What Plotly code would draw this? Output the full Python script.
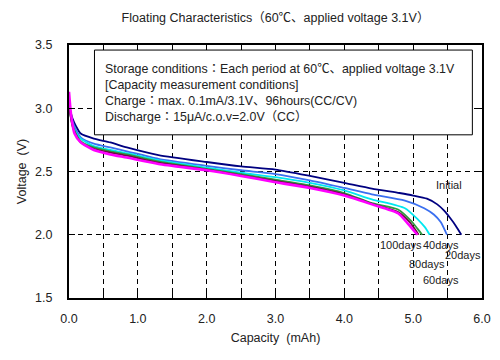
import plotly.graph_objects as go

# ---- data ----
cap_initial = [0, 0.05, 0.10, 0.17, 0.36, 0.60, 0.84, 1.30, 2.00, 2.50, 3.00, 3.50, 4.00, 4.40, 4.80, 5.00, 5.20, 5.35, 5.45, 5.54, 5.62, 5.70]
v_initial   = [3.02, 2.92, 2.86, 2.80, 2.76, 2.73, 2.69, 2.63, 2.575, 2.54, 2.515, 2.465, 2.41, 2.365, 2.33, 2.31, 2.285, 2.24, 2.19, 2.13, 2.07, 2.0]

cap_20 = [0, 0.05, 0.10, 0.17, 0.36, 0.60, 0.84, 1.30, 2.00, 2.50, 3.00, 3.50, 4.00, 4.40, 4.88, 5.16, 5.30, 5.40, 5.49]
v_20   = [3.02, 2.90, 2.83, 2.77, 2.72, 2.69, 2.66, 2.60, 2.545, 2.51, 2.48, 2.43, 2.37, 2.32, 2.27, 2.21, 2.16, 2.10, 2.0]

cap_40 = [0, 0.05, 0.10, 0.17, 0.36, 0.60, 0.84, 1.30, 2.00, 2.50, 3.00, 3.50, 4.00, 4.40, 4.88, 5.07, 5.17, 5.24]
v_40   = [3.01, 2.88, 2.81, 2.76, 2.70, 2.67, 2.645, 2.59, 2.53, 2.49, 2.455, 2.41, 2.35, 2.28, 2.21, 2.12, 2.06, 2.0]

cap_60 = [0, 0.05, 0.10, 0.17, 0.36, 0.60, 0.84, 1.30, 2.00, 2.50, 3.00, 3.50, 4.00, 4.40, 4.78, 4.97, 5.06, 5.13]
v_60   = [3.01, 2.87, 2.80, 2.74, 2.69, 2.66, 2.635, 2.58, 2.52, 2.48, 2.435, 2.39, 2.33, 2.25, 2.20, 2.11, 2.05, 2.0]

cap_80 = [0, 0.05, 0.10, 0.17, 0.36, 0.60, 0.84, 1.30, 2.00, 2.50, 3.00, 3.50, 4.00, 4.40, 4.78, 4.95, 5.08]
v_80   = [3.02, 2.86, 2.79, 2.73, 2.68, 2.65, 2.625, 2.57, 2.515, 2.47, 2.425, 2.38, 2.32, 2.245, 2.18, 2.10, 2.0]

cap_100 = [0, 0.03, 0.08, 0.17, 0.36, 0.60, 0.84, 1.30, 2.00, 2.50, 3.00, 3.50, 4.00, 4.40, 4.78, 4.92, 5.06]
v_100   = [3.13, 2.95, 2.80, 2.73, 2.67, 2.635, 2.61, 2.56, 2.51, 2.465, 2.415, 2.37, 2.31, 2.24, 2.17, 2.09, 2.0]

series_names = ["Initial", "20days", "40days", "60days", "80days", "100days"]
series_caps = [cap_initial, cap_20, cap_40, cap_60, cap_80, cap_100]
series_volts = [v_initial, v_20, v_40, v_60, v_80, v_100]
series_colors = ["#000080", "#3A6FF0", "#00E8F0", "#2E9A3E", "#6A1040", "#FF00FF"]
series_widths = [1.8, 1.8, 1.8, 1.8, 1.8, 2.6]

# label positions (capacity, voltage) for curve names
label_x = [5.52, 5.73, 5.40, 5.40, 5.20, 4.83]
label_y = [2.39, 1.84, 1.92, 1.64, 1.77, 1.92]

x_tick_vals = [0, 1, 2, 3, 4, 5, 6]
x_tick_text = ["0.0", "1.0", "2.0", "3.0", "4.0", "5.0", "6.0"]
y_tick_vals = [1.5, 2.0, 2.5, 3.0, 3.5]
y_tick_text = ["1.5", "2.0", "2.5", "3.0", "3.5"]

box_lines = [
    "Storage conditions：Each period at 60℃、applied voltage 3.1V",
    "[Capacity measurement conditions]",
    "Charge：max. 0.1mA/3.1V、96hours(CC/CV)",
    "Discharge：15μA/c.o.v=2.0V（CC）",
]
box_line_y = [3.308, 3.184, 3.060, 2.933]

FONT = "Liberation Sans, Arial, Noto Sans CJK JP, sans-serif"

fig = go.Figure()
for name, xs, ys, c, w in zip(series_names, series_caps, series_volts, series_colors, series_widths):
    fig.add_trace(go.Scatter(x=xs, y=ys, mode="lines", name=name,
                             line=dict(color=c, width=w, shape="spline", smoothing=0.6),
                             showlegend=False))

for name, lx, ly in zip(series_names, label_x, label_y):
    fig.add_annotation(x=lx, y=ly, text=name, showarrow=False,
                       font=dict(size=11, color="#222222", family=FONT))

# condition box
fig.add_shape(type="rect", xref="x", yref="y", x0=0.37, x1=5.86, y0=2.79, y1=3.46,
              line=dict(color="black", width=1), fillcolor="white", layer="above")
for line, ly in zip(box_lines, box_line_y):
    fig.add_annotation(xref="x", yref="y", x=0.50, y=ly, xanchor="left", yanchor="middle",
                       text=line, align="left", showarrow=False,
                       font=dict(size=12.4, color="#222222", family=FONT))

grid = dict(showgrid=True, gridcolor="black", gridwidth=1, griddash="5px,4px")

fig.update_layout(
    width=500, height=360,
    margin=dict(l=55, r=26, t=37, b=70),
    paper_bgcolor="white", plot_bgcolor="white",
    font=dict(family=FONT, size=12.5, color="#222222"),
    title=dict(text="Floating Characteristics（60℃、applied voltage 3.1V）",
               x=0.535, xanchor="center", y=0.972, yanchor="middle",
               font=dict(size=12.5, color="#222222", family=FONT)),
    xaxis=dict(range=[0, 6], tickvals=x_tick_vals, ticktext=x_tick_text,
               ticks="inside", ticklen=6, tickcolor="black", tickwidth=1,
               showline=True, linecolor="black", linewidth=2, mirror="ticks",
               zeroline=False, ticklabelstandoff=8,
               minor=dict(dtick=0.5, ticks="inside", ticklen=6, tickcolor="black",
                          showgrid=True, gridcolor="black", griddash="5px,4px", gridwidth=1),
               title=dict(text="Capacity\u00a0\u00a0(mAh)", standoff=8, font=dict(size=12.5)),
               **grid),
    yaxis=dict(range=[1.5, 3.5], tickvals=y_tick_vals, ticktext=y_tick_text,
               ticks="inside", ticklen=6, tickcolor="black", tickwidth=1,
               showline=True, linecolor="black", linewidth=2, mirror="ticks",
               zeroline=False, ticklabelstandoff=12,
               title=dict(text="Voltage\u00a0\u00a0(V)", standoff=6, font=dict(size=12.5)),
               **grid),
)

fig.write_html("out.html")
